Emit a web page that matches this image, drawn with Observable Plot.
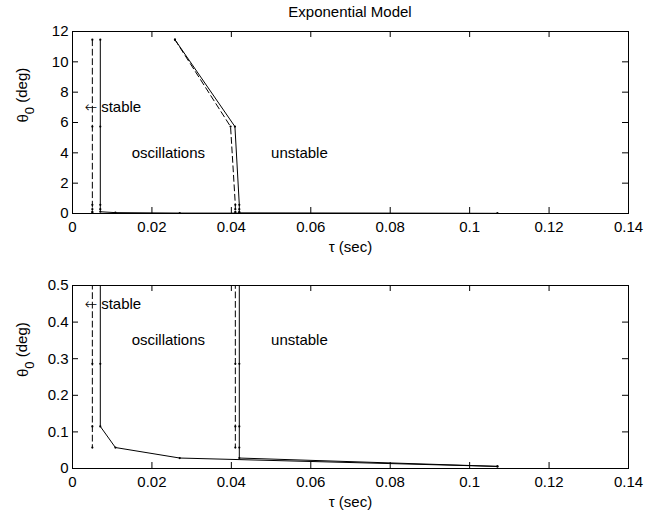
<!DOCTYPE html>
<html><head><meta charset="utf-8">
<script src="https://cdn.jsdelivr.net/npm/d3@7"></script>
<script src="https://cdn.jsdelivr.net/npm/@observablehq/plot@0.6"></script>
<style>
body{margin:0;background:#fff;font-family:"Liberation Sans",Arial,sans-serif;}
#title{height:20px;width:670px;position:relative;}
#title span{position:absolute;left:350px;top:2px;transform:translateX(-50%);font-size:15px;line-height:20px;white-space:nowrap;color:#000;}
svg{display:block;}
</style></head><body>
<div id="chart"><div id="title"><span id="tt"></span></div></div>
<script>
const titleText = "Exponential Model";
const xLabel = "τ (sec)";
const yLabelMain = "θ";
const yLabelSub = "0";
const yLabelUnit = " (deg)";

const thetaDeg = [11.46, 5.73, 0.573, 0.286, 0.115, 0.0573, 0.0286, 0.00573];
const tauStableSolid = [0.007, 0.007, 0.007, 0.007, 0.007, 0.0108, 0.027, 0.107];
const tauUnstableSolid = [0.0258, 0.0409, 0.042, 0.042, 0.042, 0.042, 0.042, 0.107];
const tauStableDashed = [0.005, 0.005, 0.005, 0.005, 0.005, 0.005];
const tauUnstableDashed = [0.0258, 0.0398, 0.041, 0.041, 0.041, 0.041];

const xTicks = [0, 0.02, 0.04, 0.06, 0.08, 0.1, 0.12, 0.14];
const xTickLabels = ["0", "0.02", "0.04", "0.06", "0.08", "0.1", "0.12", "0.14"];
const yTicksTop = [0, 2, 4, 6, 8, 10, 12];
const yTickLabelsTop = ["0", "2", "4", "6", "8", "10", "12"];
const yTicksBottom = [0, 0.1, 0.2, 0.3, 0.4, 0.5];
const yTickLabelsBottom = ["0", "0.1", "0.2", "0.3", "0.4", "0.5"];

const arrowGlyph = "←";
const noteTexts = ["← stable", "oscillations", "unstable"];
const noteTau = [0.003, 0.0149, 0.050];
const noteThetaTop = [7, 4, 4];
const noteThetaBottom = [0.45, 0.35, 0.35];

document.getElementById("tt").textContent = titleText;

function panel({yMax, yTicks, yTickLabels, noteTheta, height, marginTop, marginBottom}) {
  const W = 670, mL = 72, mR = 42;
  const innerW = W - mL - mR, innerH = height - marginTop - marginBottom;
  const T = 6;
  const series = [
    {tau: tauStableSolid, dash: null},
    {tau: tauUnstableSolid, dash: null},
    {tau: tauStableDashed, dash: "6,3.5"},
    {tau: tauUnstableDashed, dash: "6,3.5"}
  ];
  const marks = [];
  for (const s of series) {
    const data = s.tau.map((t, i) => ({tau: t, theta: thetaDeg[i]}));
    const opts = {x: "tau", y: "theta", stroke: "black", strokeWidth: 1, clip: true};
    if (s.dash) opts.strokeDasharray = s.dash;
    marks.push(Plot.line(data, opts));
    marks.push(Plot.dot(data, {x: "tau", y: "theta", r: 1.1, fill: "black", clip: true}));
  }
  const notes = noteTexts.map((t, i) => ({t, tau: noteTau[i], theta: noteTheta[i]}));
  marks.push(Plot.text(notes, {x: "tau", y: "theta", text: "t", textAnchor: "start", fontSize: 15, fill: "black"}));
  // inward ticks on all four sides
  marks.push(Plot.tickX(xTicks, {x: d => d, insetTop: innerH - T, stroke: "black"}));
  marks.push(Plot.tickX(xTicks, {x: d => d, insetBottom: innerH - T, stroke: "black"}));
  marks.push(Plot.tickY(yTicks, {y: d => d, insetRight: innerW - T, stroke: "black"}));
  marks.push(Plot.tickY(yTicks, {y: d => d, insetLeft: innerW - T, stroke: "black"}));
  marks.push(Plot.axisX(xTicks, {anchor: "bottom", tickSize: 0, tickPadding: 8, fontSize: 15, fill: "black",
    tickFormat: d => xTickLabels[xTicks.indexOf(d)], label: null}));
  marks.push(Plot.axisY(yTicks, {anchor: "left", tickSize: 0, tickPadding: 4, fontSize: 15, fill: "black",
    tickFormat: d => yTickLabels[yTicks.indexOf(d)], label: null}));
  marks.push(Plot.text([xLabel], {frameAnchor: "bottom", text: d => d, dy: 28, lineAnchor: "top", fontSize: 15, fill: "black"}));
  marks.push(Plot.text([yLabelMain + yLabelSub + yLabelUnit], {frameAnchor: "left", text: d => d, rotate: -90, dx: -49, fontSize: 15, fill: "black"}));
  marks.push(Plot.frame({stroke: "black", strokeWidth: 1}));
  const svg = Plot.plot({
    width: W, height, marginLeft: mL, marginRight: mR, marginTop, marginBottom,
    x: {domain: [0, 0.14], axis: null},
    y: {domain: [0, yMax], axis: null},
    style: {fontFamily: "Liberation Sans, Arial, sans-serif", fontSize: "15px", color: "black", background: "white", overflow: "visible"},
    marks
  });
  d3.select(svg).selectAll("text").each(function() {
    const t = d3.select(this);
    if (this.textContent === yLabelMain + yLabelSub + yLabelUnit) {
      t.text(null);
      t.append("tspan").text(yLabelMain);
      t.append("tspan").attr("dy", "0.45em").attr("font-size", 13).text(yLabelSub);
      t.append("tspan").attr("dy", "-0.45em").text(yLabelUnit);
    } else if (this.textContent.startsWith(arrowGlyph)) {
      const rest = this.textContent.slice(arrowGlyph.length);
      t.text(null);
      t.append("tspan").attr("font-family", "DejaVu Sans").attr("font-weight", 200).text(arrowGlyph);
      t.append("tspan").text(rest);
    }
  });
  return svg;
}

const chart = document.getElementById("chart");
chart.appendChild(panel({yMax: 12, yTicks: yTicksTop, yTickLabels: yTickLabelsTop, noteTheta: noteThetaTop, height: 245, marginTop: 11, marginBottom: 52}));
chart.appendChild(panel({yMax: 0.5, yTicks: yTicksBottom, yTickLabels: yTickLabelsBottom, noteTheta: noteThetaBottom, height: 250, marginTop: 20, marginBottom: 47}));
</script>
</body></html>
